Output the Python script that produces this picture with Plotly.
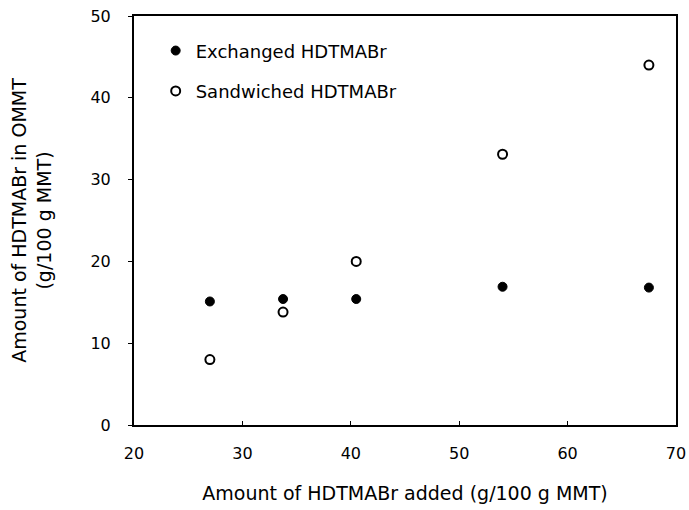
import plotly.graph_objects as go

# HDTMABr loading data (g/100 g MMT)
added = [27.0, 33.75, 40.5, 54.0, 67.5]
exchanged = [15.1, 15.4, 15.4, 16.9, 16.8]
sandwiched = [8.0, 13.8, 20.0, 33.1, 44.0]

x_ticks = [20, 30, 40, 50, 60, 70]
y_ticks = [0, 10, 20, 30, 40, 50]

tick_font = dict(family="DejaVu Sans", size=16, color="black")
title_font = dict(family="DejaVu Sans", size=19, color="black")

fig = go.Figure()
fig.add_trace(go.Scatter(
    x=added, y=exchanged, mode="markers", name="Exchanged HDTMABr",
    legendgroup="exchanged",
    marker=dict(symbol="circle", size=9, color="black",
                line=dict(color="black", width=1)),
))
fig.add_trace(go.Scatter(
    x=added, y=sandwiched, mode="markers", name="Sandwiched HDTMABr",
    legendgroup="sandwiched",
    marker=dict(symbol="circle-open", size=9, color="black",
                line=dict(color="black", width=2)),
))

fig.update_layout(
    width=689, height=510,
    margin=dict(l=134, r=13, t=16, b=85),
    paper_bgcolor="white", plot_bgcolor="white",
    showlegend=True,
    legend=dict(
        x=0.04, y=0.96, xanchor="left", yanchor="top",
        bgcolor="rgba(0,0,0,0)", itemwidth=30,
        font=dict(family="DejaVu Sans", size=18, color="black"),
        traceorder="grouped", tracegroupgap=14,
    ),
    xaxis=dict(
        range=[20, 70], tickvals=x_ticks, ticktext=[str(v) for v in x_ticks],
        showgrid=False, zeroline=False, showline=True, linecolor="black",
        linewidth=2, mirror=True, ticks="inside", ticklen=4, tickwidth=1,
        tickcolor="black", tickfont=tick_font, ticklabelstandoff=13,
        automargin=False,
        title=dict(text="Amount of HDTMABr added (g/100 g MMT)",
                   font=title_font, standoff=24),
    ),
    yaxis=dict(
        range=[0, 50], tickvals=y_ticks, ticktext=[str(v) for v in y_ticks],
        showgrid=False, zeroline=False, showline=True, linecolor="black",
        linewidth=2, mirror=True, ticks="outside", ticklen=4, tickwidth=1,
        tickcolor="black", tickfont=tick_font, ticklabelstandoff=14,
        automargin=False,
        title=dict(text="Amount of HDTMABr in OMMT<br>(g/100 g MMT)",
                   font=title_font, standoff=34),
    ),
)

fig.write_html("out.html")
